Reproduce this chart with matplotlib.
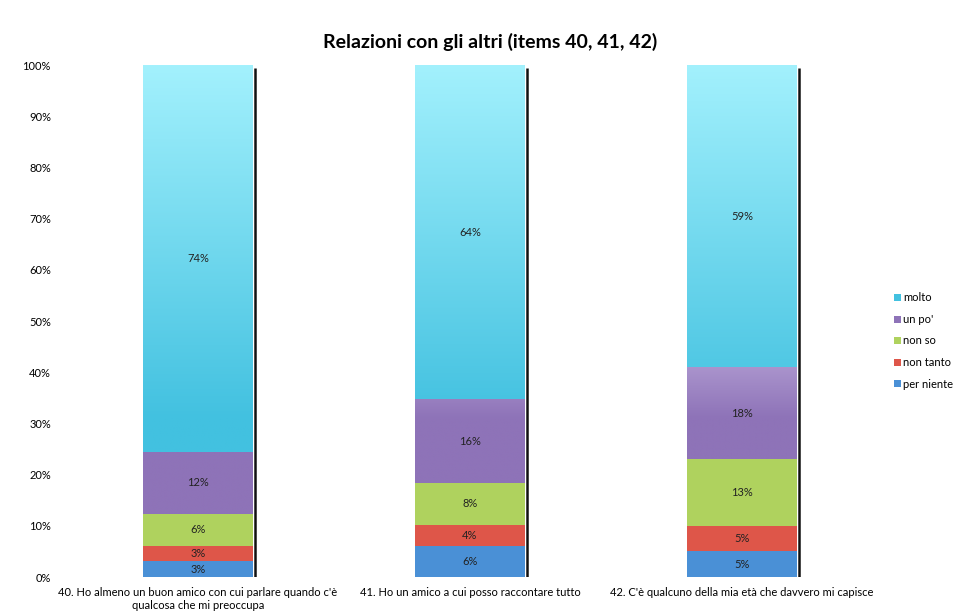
import matplotlib.pyplot as plt
import numpy as np
from matplotlib.colors import to_rgb

plt.rcParams['font.family'] = ['Lato', 'DejaVu Sans']

categories = [
    "40. Ho almeno un buon amico con cui parlare quando c'è\nqualcosa che mi preoccupa",
    "41. Ho un amico a cui posso raccontare tutto",
    "42. C'è qualcuno della mia età che davvero mi capisce",
]
series = ['per niente', 'non tanto', 'non so', "un po'", 'molto']
per_niente = [3, 6, 5]
non_tanto = [3, 4, 5]
non_so = [6, 8, 13]
un_po = [12, 16, 18]
molto = [74, 64, 59]

base_colors = ['#4A90D6', '#DE5649', '#AFD25E', '#8E73B8', '#42C1E0']
light_colors = ['#8CC0F0', '#F09088', '#D5EDA0', '#E2D6F6', '#A3F1FD']
# y range (in %) over which the fill goes from base to light colour
grad_span = [None, None, None, 30, 69]

raw = np.array([per_niente, non_tanto, non_so, un_po, molto], dtype=float)
share = raw / raw.sum(axis=0) * 100

fig = plt.figure(figsize=(9.57, 6.15), dpi=100)
ax = fig.add_axes([62 / 957, 1 - 577 / 615, (878 - 62) / 957, (577 - 65) / 615])

x = np.arange(len(categories))
width = 0.404
bottom = np.zeros(len(categories))


def gradient_fill(ax, rect, base, light, span):
    x0, y0 = rect.get_x(), rect.get_y()
    w, h = rect.get_width(), rect.get_height()
    ys = np.linspace(y0, y0 + h, 200)
    t = np.clip((ys - 31) / span, 0, 1)
    b, l = np.array(to_rgb(base)), np.array(to_rgb(light))
    img = b[None, :] * (1 - t[:, None]) + l[None, :] * t[:, None]
    img = np.repeat(img[:, None, :], 2, axis=1)
    im = ax.imshow(img, extent=[x0, x0 + w, y0, y0 + h], origin='lower',
                   aspect='auto', zorder=2, interpolation='bilinear')
    im.set_clip_path(rect)


for i, name in enumerate(series):
    bars = ax.bar(x, share[i], width, bottom=bottom, color=base_colors[i],
                  label=name, zorder=1, linewidth=0)
    if grad_span[i]:
        for bar in bars:
            gradient_fill(ax, bar, base_colors[i], light_colors[i], grad_span[i])
    for j, bar in enumerate(bars):
        ax.text(x[j], bottom[j] + share[i][j] / 2, f"{int(raw[i][j])}%",
                ha='center', va='center', fontsize=8, color='#222222', zorder=4)
    bottom += share[i]

# shadow on the right side of each bar
for xi in x:
    ax.plot([xi + width / 2 + 0.006] * 2, [0, 99.4], color='#111111',
            lw=1.8, zorder=3, solid_capstyle='butt')

ax.set_xlim(-0.5, 2.5)
ax.set_ylim(0, 100)
ax.set_yticks(np.arange(0, 101, 10))
ax.set_yticklabels([f"{v}%" for v in range(0, 101, 10)])
ax.set_xticks(x)
ax.set_xticklabels(categories, fontsize=8)
ax.tick_params(axis='y', length=0, labelsize=8, pad=8)
ax.tick_params(axis='x', length=0, pad=7)
for s in ax.spines.values():
    s.set_visible(False)

fig.text(490 / 957, 1 - 42 / 615, 'Relazioni con gli altri (items 40, 41, 42)',
         ha='center', va='center', fontsize=14, fontweight='bold')

handles, labels = ax.get_legend_handles_labels()
ax.legend(handles[::-1], labels[::-1], loc='center left',
          bbox_to_anchor=(894 / 957, 1 - 341 / 615), bbox_transform=fig.transFigure,
          frameon=False, fontsize=8, handlelength=0.6, handleheight=0.6,
          handletextpad=0.25, labelspacing=0.95, borderaxespad=0, borderpad=0)

fig.savefig('out.png', dpi=100)
